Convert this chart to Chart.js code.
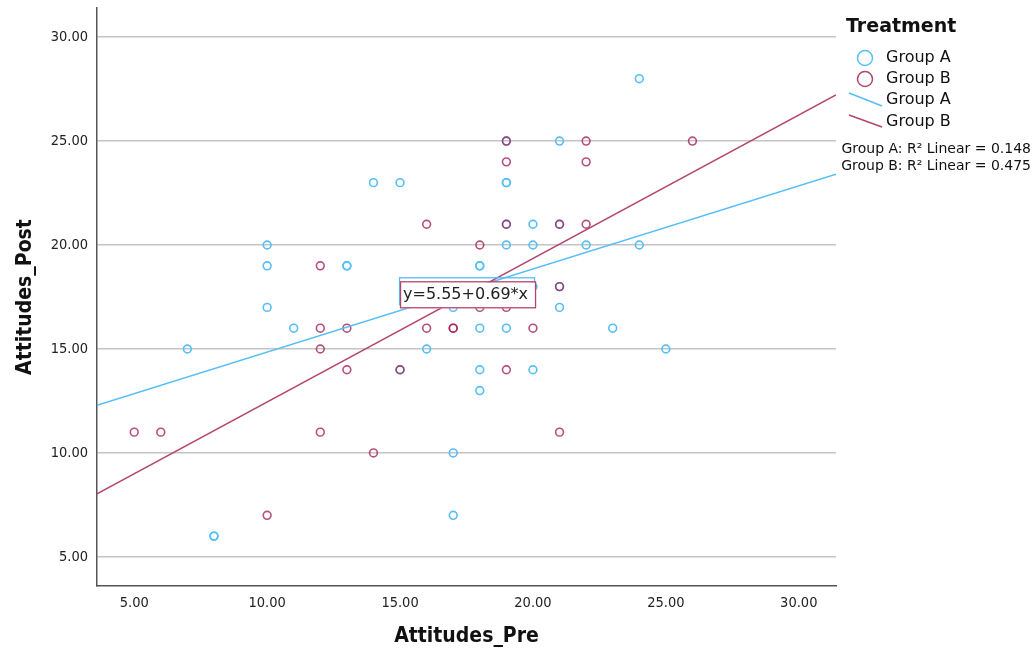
<!DOCTYPE html>
<html>
<head>
<meta charset="utf-8">
<script src="https://cdn.jsdelivr.net/npm/chart.js@4.4.0/dist/chart.umd.min.js"></script>
<style>
  html, body { margin: 0; padding: 0; background: #fff; }
</style>
</head>
<body>
<canvas id="myScatter" width="1034" height="651"></canvas>
<script>
// Group A (blue circles)
var groupAPre  = [7, 8, 8, 10, 10, 10, 11, 13, 13, 14, 15, 15, 16, 17, 17, 17, 18, 18, 18, 18, 18, 19, 19, 19, 19, 19, 19, 20, 20, 20, 20, 21, 21, 21, 21, 22, 23, 24, 24, 25];
var groupAPost = [15, 6, 6, 17, 19, 20, 16, 19, 19, 23, 23, 14, 15, 17, 10, 7, 13, 14, 16, 19, 19, 16, 20, 21, 23, 23, 25, 14, 18, 20, 21, 17, 18, 21, 25, 20, 16, 20, 28, 15];

// Group B (red circles)
var groupBPre  = [5, 6, 10, 12, 12, 12, 12, 13, 13, 14, 15, 16, 16, 17, 17, 18, 18, 19, 19, 19, 19, 19, 20, 21, 21, 21, 22, 22, 22, 26];
var groupBPost = [11, 11, 7, 11, 15, 16, 19, 14, 16, 10, 14, 16, 21, 16, 16, 17, 20, 14, 17, 21, 24, 25, 16, 11, 18, 21, 21, 24, 25, 25];

// linear fits: [intercept, slope]
var fitA = [10.85, 0.40];
var fitB = [5.55, 0.69];
var r2Labels = ['Group A: R\u00b2 Linear = 0.148', 'Group B: R\u00b2 Linear = 0.475'];
var equationLabel = 'y=5.55+0.69*x';

var xTicks = [5, 10, 15, 20, 25, 30];
var yTicks = [5, 10, 15, 20, 25, 30];
var axisMin = 3.6, axisMax = 31.4;

var blue = '#56BEF8';
var red = 'rgba(165, 35, 90, 0.8)';
var redLine = '#B5446E';

function toPoints(xs, ys) {
    return xs.map(function (v, i) { return { x: v, y: ys[i] }; });
}
function fitLine(f) {
    return [{ x: axisMin, y: f[0] + f[1] * axisMin }, { x: axisMax, y: f[0] + f[1] * axisMax }];
}

var narrow = '"DejaVu Sans Condensed", "DejaVu Sans", sans-serif';
var wide = '"DejaVu Sans", sans-serif';

// legend, equation box, R2 text
var overlayPlugin = {
    id: 'overlay',
    afterDatasetsDraw: function (chart) {
        var ctx = chart.ctx;
        var bx = chart.scales.x.getPixelForValue(15);
        var by = chart.scales.y.getPixelForValue(18.4);
        ctx.save();
        ctx.lineWidth = 1.3;
        ctx.strokeStyle = blue;
        ctx.strokeRect(bx - 0.5, by - 0.5, 135, 27);
        ctx.fillStyle = '#fff';
        ctx.fillRect(bx, by + 4, 135, 26);
        ctx.strokeStyle = redLine;
        ctx.strokeRect(bx + 0.5, by + 3.5, 135, 26);
        ctx.fillStyle = '#222';
        ctx.font = '16px ' + wide;
        ctx.textBaseline = 'middle';
        ctx.textAlign = 'left';
        ctx.fillText(equationLabel, bx + 3, by + 17);
        ctx.restore();
    },
    afterDraw: function (chart) {
        var ctx = chart.ctx;
        ctx.save();
        ctx.textBaseline = 'middle';
        ctx.textAlign = 'left';
        ctx.fillStyle = '#111';
        ctx.font = 'bold 19px ' + wide;
        ctx.fillText('Treatment', 846, 27);

        ctx.font = '16px ' + wide;
        ctx.lineWidth = 1.5;
        ctx.strokeStyle = blue;
        ctx.beginPath(); ctx.arc(865, 58, 7.5, 0, Math.PI * 2); ctx.stroke();
        ctx.strokeStyle = redLine;
        ctx.beginPath(); ctx.arc(865, 79, 7.5, 0, Math.PI * 2); ctx.stroke();
        ctx.strokeStyle = blue;
        ctx.beginPath(); ctx.moveTo(849, 93); ctx.lineTo(882, 106); ctx.stroke();
        ctx.strokeStyle = redLine;
        ctx.beginPath(); ctx.moveTo(849, 115); ctx.lineTo(882, 127); ctx.stroke();
        ctx.fillStyle = '#111';
        ctx.fillText('Group A', 886, 58);
        ctx.fillText('Group B', 886, 79);
        ctx.fillText('Group A', 886, 100);
        ctx.fillText('Group B', 886, 122);

        ctx.font = '14px ' + wide;
        ctx.textAlign = 'right';
        ctx.fillText(r2Labels[0], 1031, 149);
        ctx.fillText(r2Labels[1], 1031, 166);
        ctx.restore();
    }
};

var ctx = document.getElementById('myScatter').getContext('2d');
var myScatter = new Chart(ctx, {
    type: 'scatter',
    data: {
        datasets: [{
            label: 'Group A',
            data: toPoints(groupAPre, groupAPost),
            borderColor: blue,
            backgroundColor: 'transparent',
            borderWidth: 1.6,
            pointRadius: 3.9,
            pointHoverRadius: 3.9,
            order: 3
        }, {
            label: 'Group B',
            data: toPoints(groupBPre, groupBPost),
            borderColor: red,
            backgroundColor: 'transparent',
            borderWidth: 1.6,
            pointRadius: 3.9,
            pointHoverRadius: 3.9,
            order: 2
        }, {
            type: 'line',
            label: 'Fit A',
            data: fitLine(fitA),
            borderColor: blue,
            borderWidth: 1.5,
            pointRadius: 0,
            fill: false,
            order: 1
        }, {
            type: 'line',
            label: 'Fit B',
            data: fitLine(fitB),
            borderColor: redLine,
            borderWidth: 1.5,
            pointRadius: 0,
            fill: false,
            order: 0
        }]
    },
    options: {
        responsive: false,
        animation: false,
        layout: { padding: { left: 0, right: 198, top: 8, bottom: 0 } },
        plugins: {
            legend: { display: false },
            tooltip: { enabled: false }
        },
        scales: {
            x: {
                type: 'linear',
                min: axisMin,
                max: axisMax,
                afterBuildTicks: function (s) { s.ticks = xTicks.map(function (v) { return { value: v }; }); },
                afterFit: function (s) { s.height = 65; s.paddingLeft = 0; s.paddingRight = 0; },
                grid: { display: false, drawTicks: false },
                border: { display: true, color: '#555', width: 1.5 },
                ticks: {
                    padding: 9,
                    color: '#222',
                    font: { family: narrow, size: 14.5 },
                    callback: function (v) { return v.toFixed(2); }
                },
                title: {
                    display: true,
                    text: 'Attitudes_Pre',
                    color: '#111',
                    font: { family: narrow, size: 21, weight: 'bold' },
                    padding: { top: 0, bottom: 2 }
                }
            },
            y: {
                type: 'linear',
                min: axisMin,
                max: axisMax,
                afterBuildTicks: function (s) { s.ticks = yTicks.map(function (v) { return { value: v }; }); },
                afterFit: function (s) { s.width = 97; s.paddingTop = 0; s.paddingBottom = 0; },
                grid: { drawTicks: false, color: '#C4C4C4', lineWidth: 1.5 },
                border: { display: true, color: '#555', width: 1.5 },
                ticks: {
                    padding: 9,
                    color: '#222',
                    font: { family: narrow, size: 14.5 },
                    callback: function (v) { return v.toFixed(2); }
                },
                title: {
                    display: true,
                    text: 'Attitudes_Post',
                    color: '#111',
                    font: { family: narrow, size: 21, weight: 'bold' },
                    padding: { top: 13, bottom: 0 }
                }
            }
        }
    },
    plugins: [overlayPlugin]
});
</script>
</body>
</html>
